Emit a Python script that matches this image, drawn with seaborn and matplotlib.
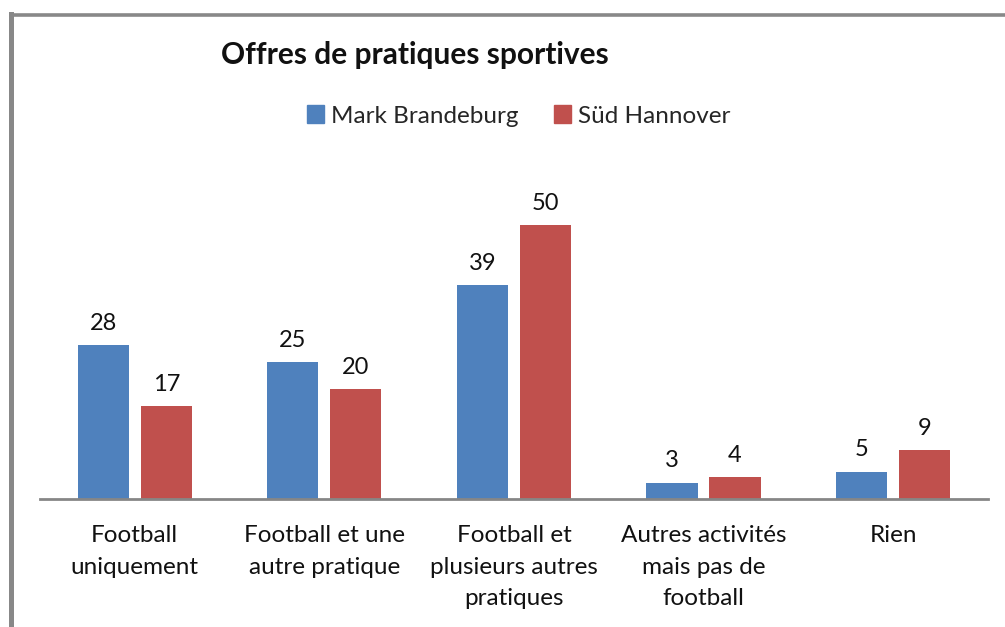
import matplotlib
matplotlib.use("Agg")
import matplotlib.pyplot as plt
import seaborn as sns
import pandas as pd
from matplotlib.lines import Line2D

categories = ["Football\nuniquement", "Football et une\nautre pratique",
              "Football et\nplusieurs autres\npratiques",
              "Autres activités\nmais pas de\nfootball", "Rien"]
series_names = ["Mark Brandeburg", "Süd Hannover"]
mark_values = [28, 25, 39, 3, 5]
sud_values = [17, 20, 50, 4, 9]
colors = ["#4F81BD", "#C0504D"]

df = pd.DataFrame({
    "cat": categories * 2,
    "serie": [series_names[0]] * 5 + [series_names[1]] * 5,
    "val": mark_values + sud_values,
})

sns.set_theme(style="white")
plt.rcParams["font.family"] = ["Lato", "DejaVu Sans"]

fig = plt.figure(figsize=(10.05, 6.27), dpi=100)
ax = fig.add_axes([0.0398, 0.2041, 0.9432, 0.5248])

sns.barplot(data=df, x="cat", y="val", hue="serie", order=categories,
            hue_order=series_names, palette=colors, width=0.664,
            saturation=1, ax=ax, legend=False)

bar_w = 0.27
for p in ax.patches:
    c = p.get_x() + p.get_width() / 2
    p.set_width(bar_w)
    p.set_x(c - bar_w / 2)
    p.set_edgecolor("none")

for cont in ax.containers:
    ax.bar_label(cont, padding=8, fontsize=17, color="#111111")

ax.set_ylim(0, 60)
ax.set_xlim(-0.5, 4.5)
ax.set_xlabel("")
ax.set_ylabel("")
ax.set_yticks([])
for s in ["top", "right", "left"]:
    ax.spines[s].set_visible(False)
ax.spines["bottom"].set_color("#868686")
ax.spines["bottom"].set_linewidth(2)
ax.tick_params(axis="x", length=0, pad=19, labelsize=17.5, colors="#111111")
for lbl in ax.get_xticklabels():
    lbl.set_linespacing(1.6)
    lbl.set_verticalalignment("top")

fig.text(0.413, 0.912, "Offres de pratiques sportives", ha="center",
         va="center", fontsize=21.5, fontweight="bold", color="#111111")

handles = [plt.Rectangle((0, 0), 1, 1, color=c) for c in colors]
fig.legend(handles, series_names, loc="center", bbox_to_anchor=(0.516, 0.815),
           ncol=2, frameon=False, fontsize=17.5, handlelength=0.7,
           handleheight=0.7, handletextpad=0.28, columnspacing=1.45)

# outer frame (left and top edges)
fig.add_artist(Line2D([10.5 / 1005, 10.5 / 1005], [0, 1 - 14 / 627],
                      transform=fig.transFigure, color="#888888", lw=3.6,
                      solid_capstyle="projecting"))
fig.add_artist(Line2D([10.5 / 1005, 1], [1 - 14.5 / 627, 1 - 14.5 / 627],
                      transform=fig.transFigure, color="#888888", lw=2.6,
                      solid_capstyle="projecting"))

fig.savefig("out.png", dpi=100, facecolor="white")
